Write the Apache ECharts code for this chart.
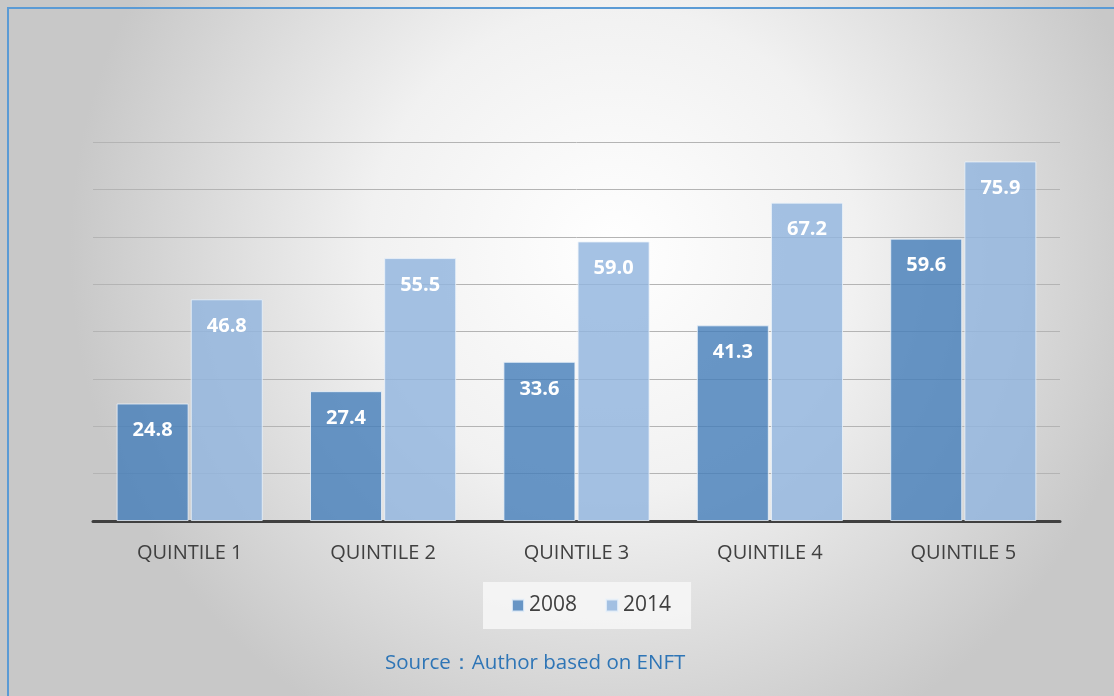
<!DOCTYPE html>
<html><head><meta charset="utf-8">
<script src="https://cdn.jsdelivr.net/npm/echarts@6/dist/echarts.min.js"></script>
<style>html,body{margin:0;padding:0;}#c{width:1114px;height:696px;}</style>
</head><body><div id="c"></div>
<script>
const categories = ['QUINTILE 1','QUINTILE 2','QUINTILE 3','QUINTILE 4','QUINTILE 5'];
const seriesNames = ['2008','2014'];
const values2008 = [24.8, 27.4, 33.6, 41.3, 59.6];
const values2014 = [46.8, 55.5, 59.0, 67.2, 75.9];
const sourceText = 'Source\uFF1AAuthor based on ENFT';

const chart = echarts.init(document.getElementById('c'));
const FONT = 'Open Sans';
const labelCfg = {show:true, position:'insideTop', distance:17, color:'#fff', fontWeight:'bold', fontSize:20, fontFamily:FONT, formatter:p=>p.value.toFixed(1)};
chart.setOption({
  backgroundColor: {type:'radial', x:0.55, y:0.36, r:0.78, colorStops:[{offset:0,color:'#ffffff'},{offset:0.45,color:'#f1f1f1'},{offset:1,color:'#c8c8c8'}]},
  animation:false,
  grid:{left:93, right:54, top:142, bottom:175},
  legend:{top:582, left:483, itemWidth:12, itemHeight:12, itemGap:28, padding:[13,20,13,28],
    backgroundColor:'rgba(247,247,247,0.85)',
    textStyle:{fontSize:21, color:'#404040', fontFamily:FONT}, icon:'rect', data:seriesNames},
  title:{text:sourceText, left:380, top:648, textStyle:{fontSize:20.5, fontWeight:'normal', color:'#2e75b6', fontFamily:FONT}},
  xAxis:{type:'category', data:categories, axisTick:{show:false},
    axisLine:{lineStyle:{color:'#404040', width:3}},
    axisLabel:{fontSize:20, color:'#404040', margin:22, fontFamily:FONT}},
  yAxis:{type:'value', min:0, max:80, interval:10, axisLabel:{show:false}, axisLine:{show:false}, axisTick:{show:false},
    splitLine:{lineStyle:{color:'#b4b4b4', width:1}}},
  series:[
    {name:seriesNames[0], type:'bar', data:values2008, barWidth:72, barGap:'3%',
     itemStyle:{color:'rgba(68,125,185,0.8)', borderColor:'rgba(235,242,250,0.8)', borderWidth:1}, label:labelCfg},
    {name:seriesNames[1], type:'bar', data:values2014, barWidth:72,
     itemStyle:{color:'rgba(145,181,222,0.82)', borderColor:'rgba(235,242,250,0.8)', borderWidth:1}, label:labelCfg}
  ],
  graphic:[{type:'rect', shape:{x:8, y:8, width:1120, height:700}, style:{fill:'none', stroke:'#5b9bd5', lineWidth:2}, silent:true}]
});
</script></body></html>
